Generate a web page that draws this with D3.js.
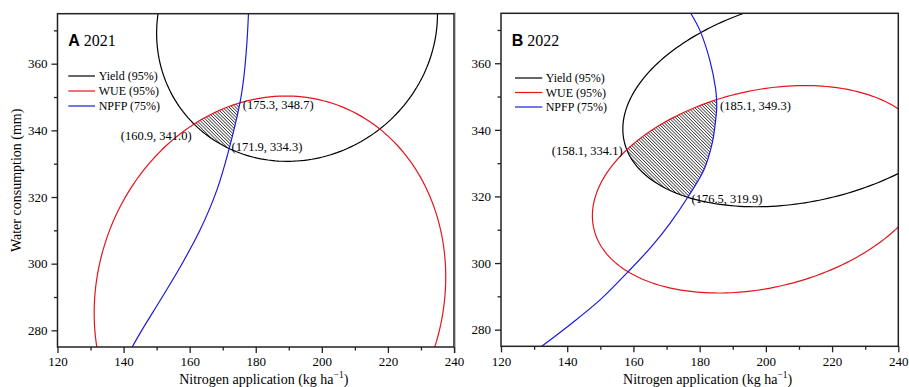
<!DOCTYPE html>
<html>
<head>
<meta charset="utf-8">
<script src="https://cdn.jsdelivr.net/npm/d3@7"></script>
<style>
  body { margin: 0; background: #fff; }
  svg { display: block; }
  text { font-family: "Liberation Serif", "Times New Roman", serif; fill: #000; }
</style>
</head>
<body>
<svg id="chart" width="909" height="387"></svg>
<script>
// axis values
const xDomain = [120, 240];
const yDomain = [275, 375];
const xTicks = [120, 140, 160, 180, 200, 220, 240];
const yTicks = [280, 300, 320, 340, 360];
const panelLabels = ['A', 'B'];
const panelYears = ['2021', '2022'];
const legendNames = ['Yield (95%)', 'WUE (95%)', 'NPFP (75%)'];
const legendColors = ['#000000', '#e3141c', '#1a1ae0'];

// confidence ellipses: [centre N, centre W, half-width N, half-height W, phase deg]
const yieldEllipseA = [192.5, 372, 42.5, 41.3, 86];
const wueEllipseA = [184.3, 290.6, 53.2, 59.7, 84.8];
const yieldEllipseB = [211.8, 348.9, 55, 32, 74.3];
const wueEllipseB = [198.7, 322.15, 51.1, 31.15, 75.2];

// NPFP 75% contour (N, W)
const npfpA = [[177.8, 375], [177.3, 366], [176.4, 356], [175.3, 348.7], [171.9, 334.3],
  [168.2, 322], [163.1, 310], [157.7, 300], [151.7, 290], [145.5, 280], [142.6, 275]];
const npfpB = [[177.3, 375], [180.1, 369.8], [183.1, 360.8], [184.8, 352.5], [185.1, 349.3],
  [185.15, 346.5], [184.6, 341], [183.8, 336], [181.3, 328], [176.5, 319.9], [171.1, 312],
  [165.5, 305], [158.4, 297.4], [150, 289], [141.5, 282], [132.3, 275]];

// intersection labels
const pointsA = [[175.3, 348.7], [160.9, 341.0], [171.9, 334.3]];
const pointsB = [[185.1, 349.3], [158.1, 334.1], [176.5, 319.9]];

const panels = [
  { left: 57.5, right: 454, top: 13.7, bottom: 347, yieldE: yieldEllipseA, wueE: wueEllipseA, npfp: npfpA,
    pts: pointsA, offs: [[2.5, 3, 'start'], [-1, 9, 'end'], [2.5, -2.5, 'start']],
    legend: { x1: 10.8, x2: 37.5, tx: 41.2, ys: [76, 91, 106] }, yTitle: true },
  { left: 501, right: 898.3, top: 13.3, bottom: 346.3, yieldE: yieldEllipseB, wueE: wueEllipseB, npfp: npfpB,
    pts: pointsB, offs: [[3.5, 7, 'start'], [-4.5, 1, 'end'], [3.5, 1.5, 'start']],
    legend: { x1: 14, x2: 41.3, tx: 44.7, ys: [78, 92.5, 107] }, yTitle: false }
];

const svg = d3.select('#chart');
const defs = svg.append('defs');

// hatch pattern
defs.append('pattern')
    .attr('id', 'hatch')
    .attr('patternUnits', 'userSpaceOnUse')
    .attr('width', 2.3)
    .attr('height', 2.3)
    .attr('patternTransform', 'rotate(45)')
  .append('line')
    .attr('x1', 0).attr('x2', 2.3)
    .attr('y1', 1.15).attr('y2', 1.15)
    .attr('stroke', '#333')
    .attr('stroke-width', 0.8);

// separator between the two panels
svg.append('line')
    .attr('x1', 455.5).attr('x2', 455.5)
    .attr('y1', 12).attr('y2', 353)
    .attr('stroke', '#c4c4c4')
    .attr('stroke-width', 1);

function ellipsePoints(e) {
  let [cx, cy, rx, ry, phi] = e;
  let p = phi * Math.PI / 180;
  return d3.range(0, 361, 1.5).map((deg) => {
    let t = deg * Math.PI / 180;
    return [cx + rx * Math.cos(t), cy + ry * Math.cos(t - p)];
  });
}

panels.forEach((pn, i) => {
  let x = d3.scaleLinear().domain(xDomain).range([pn.left, pn.right]);
  let y = d3.scaleLinear().domain(yDomain).range([pn.bottom, pn.top]);
  let line = d3.line().x((d) => x(d[0])).y((d) => y(d[1]));
  let curveLine = d3.line().x((d) => x(d[0])).y((d) => y(d[1])).curve(d3.curveCatmullRom.alpha(0.5));

  let yieldD = line(ellipsePoints(pn.yieldE)) + 'Z';
  let wueD = line(ellipsePoints(pn.wueE)) + 'Z';
  let npfpD = curveLine(pn.npfp);

  // clip paths
  defs.append('clipPath').attr('id', `plot${i}`)
    .append('rect')
      .attr('x', pn.left).attr('y', pn.top)
      .attr('width', pn.right - pn.left).attr('height', pn.bottom - pn.top);
  defs.append('clipPath').attr('id', `wue${i}`)
    .append('path').attr('d', wueD);
  let first = pn.npfp[0], last = pn.npfp[pn.npfp.length - 1];
  defs.append('clipPath').attr('id', `npfp${i}`)
    .append('path')
      .attr('d', `${npfpD}L${pn.left - 60},${y(last[1])}L${pn.left - 60},${y(first[1])}Z`);

  let g = svg.append('g');
  let plot = g.append('g').attr('clip-path', `url(#plot${i})`);

  // hatched overlap region
  plot.append('g').attr('clip-path', `url(#npfp${i})`)
    .append('g').attr('clip-path', `url(#wue${i})`)
    .append('path')
      .attr('d', yieldD)
      .attr('fill', 'url(#hatch)')
      .attr('stroke', 'none');

  plot.append('path').attr('d', yieldD)
      .attr('fill', 'none').attr('stroke', legendColors[0]).attr('stroke-width', 1.2);
  plot.append('path').attr('d', wueD)
      .attr('fill', 'none').attr('stroke', legendColors[1]).attr('stroke-width', 1.2);
  plot.append('path').attr('d', npfpD)
      .attr('fill', 'none').attr('stroke', legendColors[2]).attr('stroke-width', 1.2);

  // frame
  g.append('rect')
      .attr('x', pn.left).attr('y', pn.top)
      .attr('width', pn.right - pn.left).attr('height', pn.bottom - pn.top)
      .attr('fill', 'none').attr('stroke', '#222').attr('stroke-width', 1.5);

  // axes (major + minor ticks)
  g.append('g').attr('transform', `translate(0,${pn.bottom})`)
    .call(d3.axisBottom(x).tickValues(xTicks).tickSize(6).tickPadding(4).tickFormat(d3.format('d')));
  g.append('g').attr('transform', `translate(0,${pn.bottom})`)
    .call(d3.axisBottom(x).tickValues(d3.range(130, 240, 20)).tickSize(3.5).tickFormat(''));
  g.append('g').attr('transform', `translate(${pn.left},0)`)
    .call(d3.axisLeft(y).tickValues(yTicks).tickSize(6).tickPadding(4).tickFormat(d3.format('d')));
  g.append('g').attr('transform', `translate(${pn.left},0)`)
    .call(d3.axisLeft(y).tickValues(d3.range(290, 375, 20)).tickSize(3.5).tickFormat(''));
  g.selectAll('.domain').remove();
  g.selectAll('.tick line').attr('stroke', '#222').attr('stroke-width', 1.3);
  g.selectAll('.tick text')
      .style('font-family', '"Liberation Serif", "Times New Roman", serif')
      .style('font-size', '13px')
      .attr('fill', '#000');

  // axis titles
  let xt = g.append('text')
      .attr('x', (pn.left + pn.right) / 2 + 8)
      .attr('y', 384)
      .attr('text-anchor', 'middle')
      .style('font-size', '14px')
      .text('Nitrogen application (kg ha');
  xt.append('tspan').attr('dy', -6).style('font-size', '9.5px').text('−1');
  xt.append('tspan').attr('dy', 6).text(')');

  if (pn.yTitle) {
    g.append('text')
        .attr('transform', `translate(21,${(pn.top + pn.bottom) / 2}) rotate(-90)`)
        .attr('text-anchor', 'middle')
        .style('font-size', '14px')
        .text('Water consumption (mm)');
  }

  // panel label
  let lab = g.append('text')
      .attr('x', pn.left + 10.8)
      .attr('y', 46)
      .style('font-size', '16px');
  lab.append('tspan')
      .style('font-family', '"Liberation Sans", Arial, sans-serif')
      .style('font-weight', 'bold')
      .text(panelLabels[i]);
  lab.append('tspan').text(' ' + panelYears[i]);

  // legend
  legendNames.forEach((name, k) => {
    let ly = pn.legend.ys[k];
    g.append('line')
        .attr('x1', pn.left + pn.legend.x1).attr('x2', pn.left + pn.legend.x2)
        .attr('y1', ly).attr('y2', ly)
        .attr('stroke', legendColors[k]).attr('stroke-width', 1.2);
    g.append('text')
        .attr('x', pn.left + pn.legend.tx)
        .attr('y', ly)
        .attr('dy', '0.35em')
        .style('font-size', '12px')
        .text(name);
  });

  // intersection labels
  pn.pts.forEach((p, k) => {
    let o = pn.offs[k];
    g.append('text')
        .attr('x', x(p[0]) + o[0])
        .attr('y', y(p[1]) + o[1])
        .attr('dy', '0.35em')
        .attr('text-anchor', o[2])
        .style('font-size', '12.5px')
        .text(`(${p[0].toFixed(1)}, ${p[1].toFixed(1)})`);
  });
});
</script>
</body>
</html>
